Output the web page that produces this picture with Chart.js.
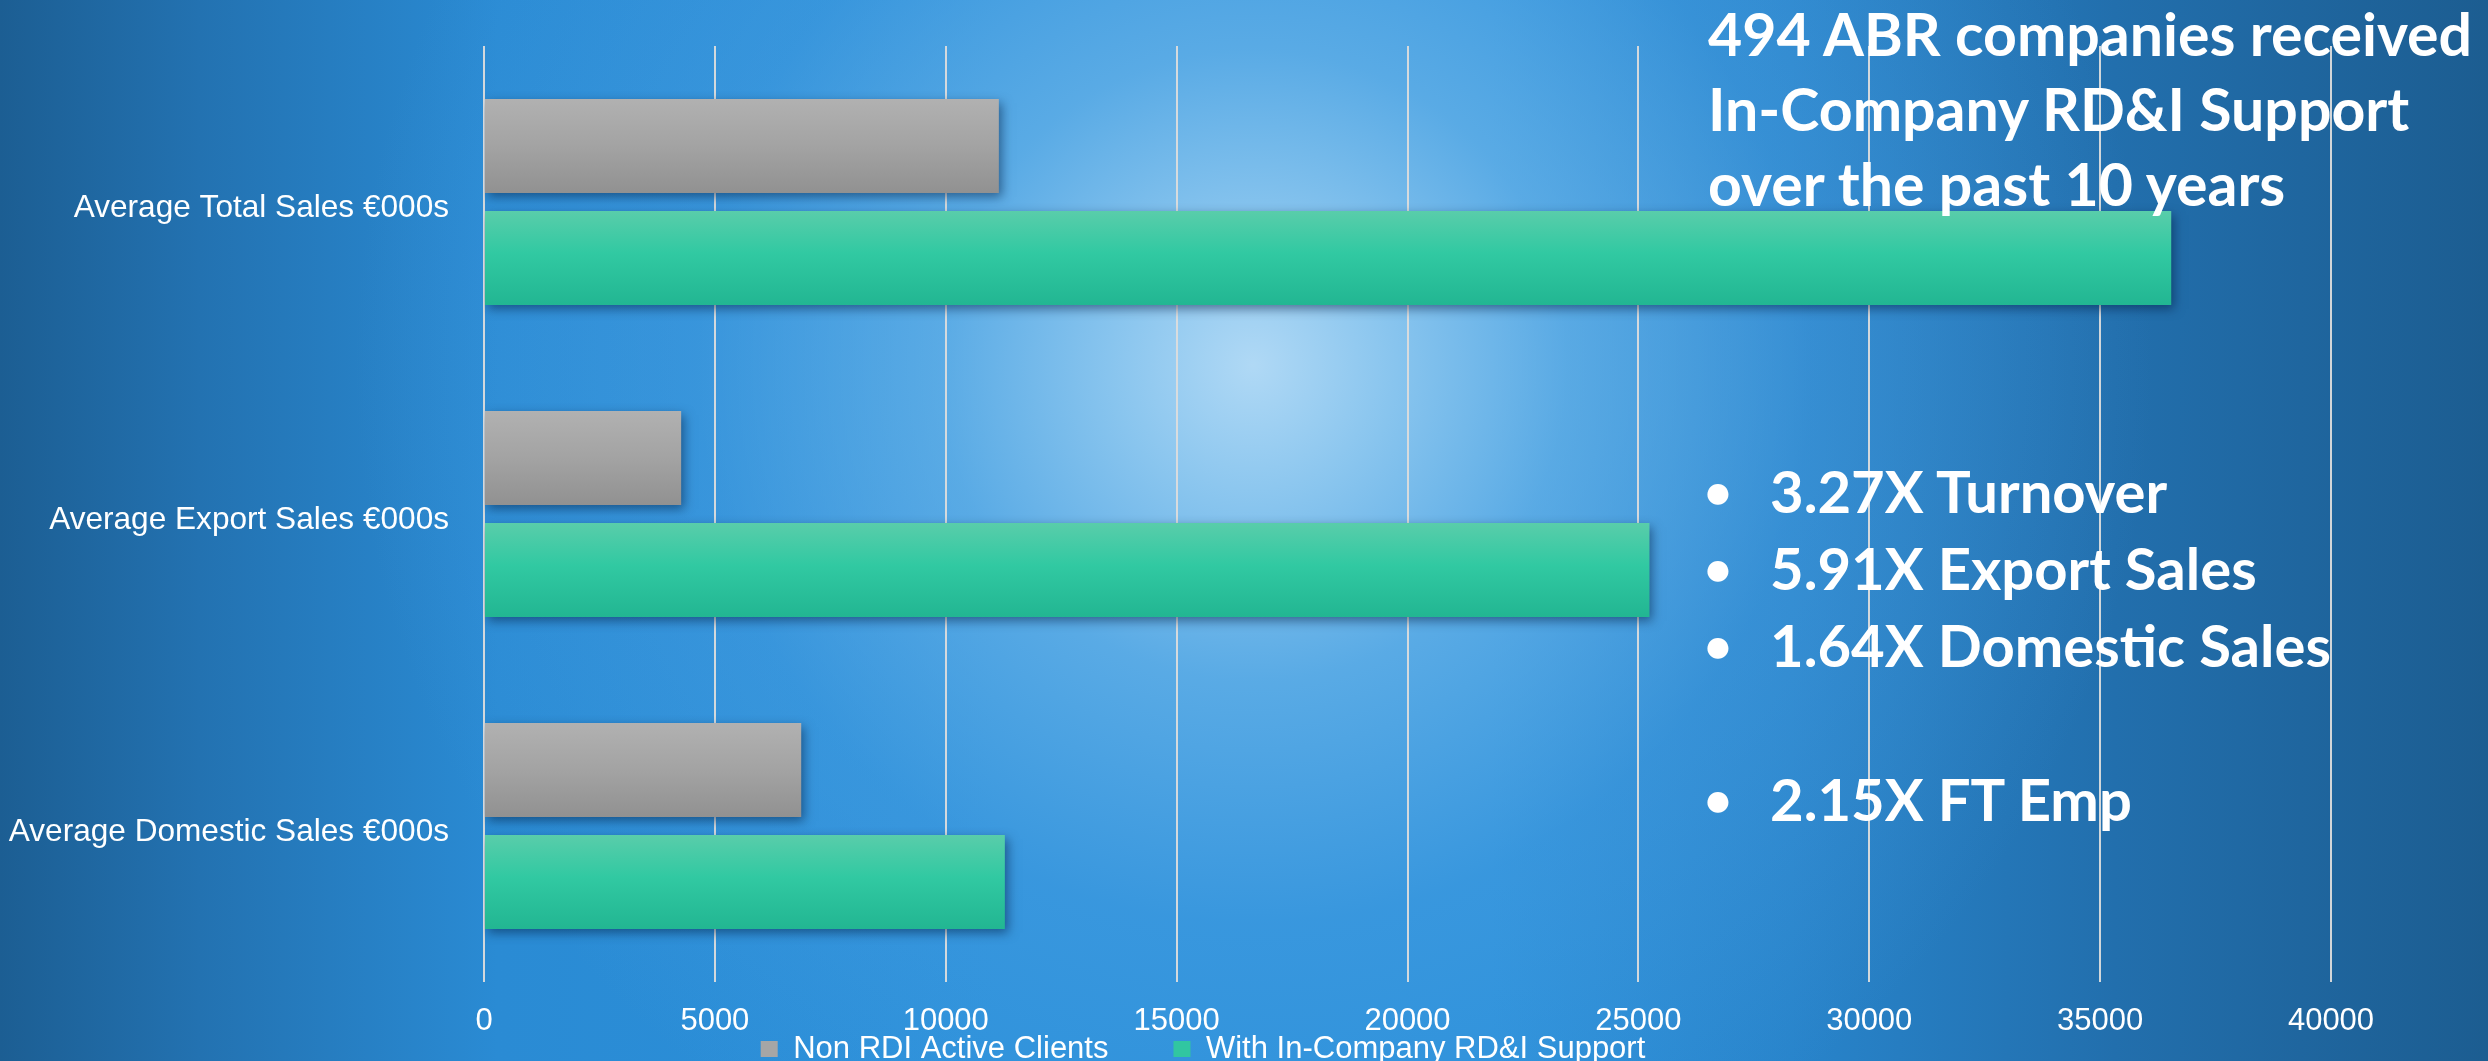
<!DOCTYPE html>
<html>
<head>
<meta charset="utf-8">
<script src="https://cdn.jsdelivr.net/npm/chart.js@4.4.1/dist/chart.umd.min.js"></script>
<style>
  html, body { margin: 0; padding: 0; width: 2488px; height: 1061px; overflow: hidden; }
  body {
    position: relative;
    background:
      radial-gradient(circle 900px at 1253px 365px,
        rgba(180,219,246,0.97) 0%, rgba(155,207,242,0.85) 15%, rgba(118,187,236,0.62) 35%,
        rgba(85,166,230,0.32) 62%, rgba(60,150,225,0) 100%),
      linear-gradient(to right, #1c5e93 0%, #2372b1 8%, #2a8bd4 20%, #2b90da 40%,
        #2b90da 60%, #2884cb 72%, #226fad 85%, #1c5d91 100%);
  }
  #chart { position: absolute; left: 0; top: 0; }
  .note {
    position: absolute; color: #fff; white-space: nowrap;
    font-family: Lato, "Open Sans", sans-serif; font-weight: 700; font-size: 59px;
  }
  .bul { font-size: 58px; }
  .line { position: relative; height: 77px; line-height: 77px; }
  .dot { display: inline-block; width: 40px; text-align: center; font-size: 48px; vertical-align: 4px; }
  .txt { position: absolute; left: 72px; top: 0; }
</style>
</head>
<body>
<canvas id="chart" width="2488" height="1061"></canvas>

<div class="note" style="left:1708px; top:-4px; line-height:75px;">494 ABR companies received<br>In-Company RD&amp;I Support<br>over the past 10 years</div>

<div class="note bul" style="left:1698px; top:452px;">
  <div class="line"><span class="dot">•</span><span class="txt">3.27X Turnover</span></div>
  <div class="line"><span class="dot">•</span><span class="txt">5.91X Export Sales</span></div>
  <div class="line"><span class="dot">•</span><span class="txt">1.64X Domestic Sales</span></div>
  <div class="line">&nbsp;</div>
  <div class="line"><span class="dot">•</span><span class="txt">2.15X FT Emp</span></div>
</div>

<script>
// ---- data ----
const categories = ['Average Total Sales €000s', 'Average Export Sales €000s', 'Average Domestic Sales €000s'];
const seriesNames = ['Non RDI Active Clients', 'With In-Company RD&I Support'];
const nonRdiValues = [11150, 4270, 6870];
const withSupportValues = [36540, 25240, 11280];
const xTickMin = 0;
const xTickMax = 40000;
const xTickStep = 5000;

// ---- style constants ----
const FONT = "'Liberation Sans', Arial, sans-serif";
const CAT_PCT = 0.718;
const BAR_PCT = 0.84;
const grayStops = [[0, '#b1b1b1'], [0.5, '#a3a3a3'], [1, '#919191']];
const greenStops = [[0, '#59cdaa'], [0.45, '#31c9a2'], [1, '#22b692']];
const legendColors = ['#a6a6a6', '#31c6a1'];
const LEGEND_FONT = 31;
const LEGEND_RESERVED = 24;
const LEGEND_TEXT_Y = 1049;
const LEGEND_RIGHT = 2406;

function barGradient(context, stops, dsIdx) {
  const chart = context.chart;
  const area = chart.chartArea;
  if (!area || context.type !== 'data') return stops[1][1];
  const ys = chart.scales.y;
  const center = ys.getPixelForValue(context.dataIndex);
  const catH = (ys.bottom - ys.top) / categories.length;
  const slot = catH * CAT_PCT / 2;
  const c = center + (dsIdx === 0 ? -slot / 2 : slot / 2);
  const h = slot * BAR_PCT;
  const g = chart.ctx.createLinearGradient(0, c - h / 2, 0, c + h / 2);
  stops.forEach(([o, col]) => g.addColorStop(o, col));
  return g;
}

const barShadow = {
  id: 'barShadow',
  beforeDatasetsDraw(chart) {
    const c = chart.ctx;
    c.save();
    c.shadowColor = 'rgba(0, 25, 60, 0.5)';
    c.shadowBlur = 10;
    c.shadowOffsetX = 3;
    c.shadowOffsetY = 4;
  },
  afterDatasetsDraw(chart) { chart.ctx.restore(); }
};

const legendPlacer = {
  id: 'legendPlacer',
  beforeLayout(chart) {
    const lg = chart.legend;
    if (lg && !lg.__wrapped) {
      const origFit = lg.fit;
      lg.fit = function () { origFit.call(this); this.height = LEGEND_RESERVED; };
      lg.__wrapped = true;
    }
  },
  afterLayout(chart) {
    const lg = chart.legend;
    if (!lg) return;
    const pad = lg.options.labels.padding;
    lg.left = 0; lg.right = LEGEND_RIGHT; lg.width = LEGEND_RIGHT;
    lg.top = LEGEND_TEXT_Y - pad - LEGEND_FONT / 2;
    lg.bottom = chart.height; lg.height = lg.bottom - lg.top;
  }
};

new Chart(document.getElementById('chart'), {
  type: 'bar',
  data: {
    labels: categories,
    datasets: [
      {
        label: seriesNames[0],
        data: nonRdiValues,
        backgroundColor: (ctx) => barGradient(ctx, grayStops, 0),
        borderWidth: 0,
        barPercentage: BAR_PCT,
        categoryPercentage: CAT_PCT
      },
      {
        label: seriesNames[1],
        data: withSupportValues,
        backgroundColor: (ctx) => barGradient(ctx, greenStops, 1),
        borderWidth: 0,
        barPercentage: BAR_PCT,
        categoryPercentage: CAT_PCT
      }
    ]
  },
  options: {
    indexAxis: 'y',
    responsive: false,
    animation: false,
    devicePixelRatio: 1,
    layout: { padding: { top: 46, right: 157, bottom: 0, left: 0 } },
    scales: {
      x: {
        min: xTickMin,
        max: xTickMax,
        ticks: {
          stepSize: xTickStep,
          color: '#ffffff',
          font: { family: FONT, size: 31 },
          padding: 21,
          maxRotation: 0,
          autoSkip: false,
          callback: (v) => String(v)
        },
        grid: { color: 'rgba(220,220,220,0.95)', lineWidth: 2, drawTicks: false },
        border: { display: false },
        afterFit(s) { s.height = 55; }
      },
      y: {
        ticks: {
          color: '#ffffff',
          font: { family: FONT, size: 31.6 },
          padding: 27,
          labelOffset: 6
        },
        grid: { display: false },
        border: { display: false },
        afterFit(s) { s.width = 484; }
      }
    },
    plugins: {
      legend: {
        position: 'bottom',
        labels: {
          color: '#ffffff',
          font: { family: FONT, size: LEGEND_FONT },
          boxWidth: 17,
          boxHeight: 16,
          padding: 65,
          generateLabels(chart) {
            const items = Chart.defaults.plugins.legend.labels.generateLabels(chart);
            items.forEach((it, i) => {
              it.fillStyle = legendColors[i];
              it.strokeStyle = legendColors[i];
              it.lineWidth = 0;
            });
            return items;
          }
        }
      },
      tooltip: { enabled: false }
    }
  },
  plugins: [barShadow, legendPlacer]
});
</script>
</body>
</html>
